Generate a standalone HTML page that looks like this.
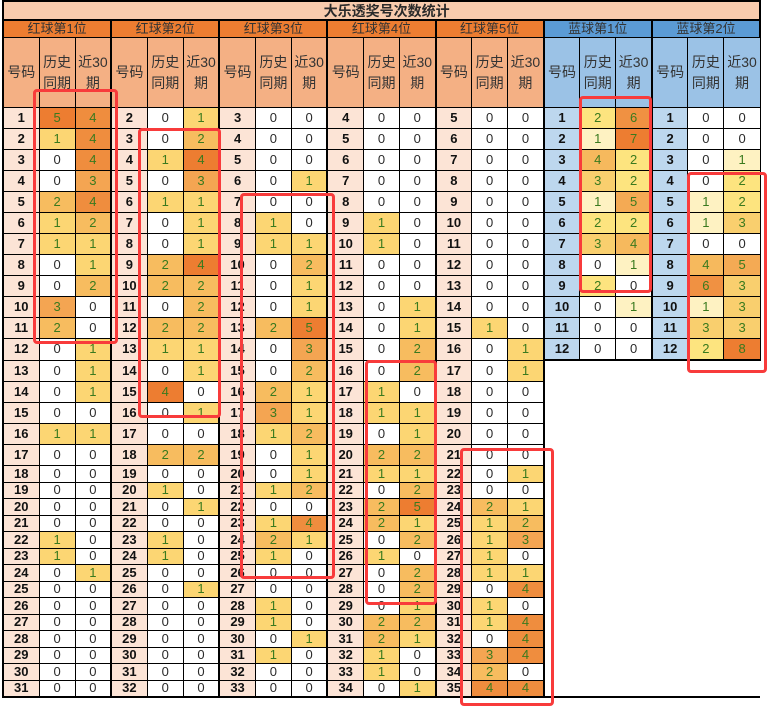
<!DOCTYPE html>
<html><head><meta charset="utf-8"><style>
body{margin:0;background:#fff;width:773px;height:706px;overflow:hidden;position:relative;font-family:"Liberation Sans","Noto Sans CJK SC",sans-serif}
table{position:absolute;left:2px;top:0;border-collapse:collapse;table-layout:fixed;width:757px}
td{border:1px solid #000;text-align:center;padding:0;font-size:13px;color:#2a2a2a;height:20px;line-height:14px;overflow:hidden;white-space:nowrap}
tr.s td{height:16px}tr.s2 td{height:15px}
.t{background:#F8CBAD;font-weight:bold;font-size:14px;text-align:center;padding-left:10px;height:17px;border:2px solid #000}
.gr{background:#ED7D31;font-size:13px;height:16px;border-left:2px solid #000;border-right:2px solid #000;color:#333}
.gb{background:#5B9BD5;font-size:13px;height:16px;border-left:2px solid #000;border-right:2px solid #000;color:#333}
.hr{background:#F4B084;font-size:14px;height:69px;line-height:21px;color:#333}
.hb{background:#9BC2E6;font-size:14px;height:69px;line-height:21px;color:#333}
.a{background:#FCE4D6;font-weight:bold;border-left:2px solid #000;color:#111}
.b{background:#BDD7EE;font-weight:bold;border-left:2px solid #000;color:#111}
.k{border-left:2px solid #000}
.r1,.r2,.r3,.r4,.r5,.y1,.y2,.y3,.y4,.y5,.y6,.y7,.y8{color:#3a7a1e}
.r1{background:#FCD673}.r2{background:#F7BC5F}.r3{background:#F4A552}.r4{background:#EF8D3E}.r5{background:#ED7D31}
.y1{background:#FEF2C2}.y2{background:#FDE47F}.y3{background:#F9CF6E}.y4{background:#F6B95D}.y5{background:#F4AA54}.y6{background:#F09142}.y7,.y8{background:#ED7D31}
.e{border:none;border-left:2px solid #000;border-top:2px solid #000;background:#fff}
.box{position:absolute;border:3px solid #F83B3B;border-radius:4px;box-sizing:border-box}
</style></head><body>
<table>
<colgroup><col span="21" style="width:36.05px"></colgroup>
<tr><td colspan="21" class="t">大乐透奖号次数统计</td></tr>
<tr><td colspan="3" class="gr">红球第1位</td><td colspan="3" class="gr">红球第2位</td><td colspan="3" class="gr">红球第3位</td><td colspan="3" class="gr">红球第4位</td><td colspan="3" class="gr">红球第5位</td><td colspan="3" class="gb">蓝球第1位</td><td colspan="3" class="gb">蓝球第2位</td></tr>
<tr>
<td class="hr k">号码</td><td class="hr">历史<br>同期</td><td class="hr">近30<br>期</td>
<td class="hr k">号码</td><td class="hr">历史<br>同期</td><td class="hr">近30<br>期</td>
<td class="hr k">号码</td><td class="hr">历史<br>同期</td><td class="hr">近30<br>期</td>
<td class="hr k">号码</td><td class="hr">历史<br>同期</td><td class="hr">近30<br>期</td>
<td class="hr k">号码</td><td class="hr">历史<br>同期</td><td class="hr">近30<br>期</td>
<td class="hb k">号码</td><td class="hb">历史<br>同期</td><td class="hb">近30<br>期</td>
<td class="hb k">号码</td><td class="hb">历史<br>同期</td><td class="hb">近30<br>期</td></tr>
<tr><td class="a">1</td><td class="r5">5</td><td class="r4">4</td><td class="a">2</td><td>0</td><td class="r1">1</td><td class="a">3</td><td>0</td><td>0</td><td class="a">4</td><td>0</td><td>0</td><td class="a">5</td><td>0</td><td>0</td><td class="b">1</td><td class="y2">2</td><td class="y6">6</td><td class="b">1</td><td>0</td><td>0</td></tr>
<tr><td class="a">2</td><td class="r1">1</td><td class="r4">4</td><td class="a">3</td><td>0</td><td class="r2">2</td><td class="a">4</td><td>0</td><td>0</td><td class="a">5</td><td>0</td><td>0</td><td class="a">6</td><td>0</td><td>0</td><td class="b">2</td><td class="y1">1</td><td class="y7">7</td><td class="b">2</td><td>0</td><td>0</td></tr>
<tr><td class="a">3</td><td>0</td><td class="r4">4</td><td class="a">4</td><td class="r1">1</td><td class="r5">4</td><td class="a">5</td><td>0</td><td>0</td><td class="a">6</td><td>0</td><td>0</td><td class="a">7</td><td>0</td><td>0</td><td class="b">3</td><td class="y4">4</td><td class="y2">2</td><td class="b">3</td><td>0</td><td class="y1">1</td></tr>
<tr><td class="a">4</td><td>0</td><td class="r3">3</td><td class="a">5</td><td>0</td><td class="r3">3</td><td class="a">6</td><td>0</td><td class="r1">1</td><td class="a">7</td><td>0</td><td>0</td><td class="a">8</td><td>0</td><td>0</td><td class="b">4</td><td class="y3">3</td><td class="y2">2</td><td class="b">4</td><td>0</td><td class="y2">2</td></tr>
<tr><td class="a">5</td><td class="r2">2</td><td class="r4">4</td><td class="a">6</td><td class="r1">1</td><td class="r1">1</td><td class="a">7</td><td>0</td><td>0</td><td class="a">8</td><td>0</td><td>0</td><td class="a">9</td><td>0</td><td>0</td><td class="b">5</td><td class="y1">1</td><td class="y5">5</td><td class="b">5</td><td class="y1">1</td><td class="y2">2</td></tr>
<tr><td class="a">6</td><td class="r1">1</td><td class="r2">2</td><td class="a">7</td><td>0</td><td class="r1">1</td><td class="a">8</td><td class="r1">1</td><td>0</td><td class="a">9</td><td class="r1">1</td><td>0</td><td class="a">10</td><td>0</td><td>0</td><td class="b">6</td><td class="y2">2</td><td class="y2">2</td><td class="b">6</td><td class="y1">1</td><td class="y3">3</td></tr>
<tr><td class="a">7</td><td class="r1">1</td><td class="r1">1</td><td class="a">8</td><td>0</td><td class="r1">1</td><td class="a">9</td><td class="r1">1</td><td class="r1">1</td><td class="a">10</td><td class="r1">1</td><td>0</td><td class="a">11</td><td>0</td><td>0</td><td class="b">7</td><td class="y3">3</td><td class="y4">4</td><td class="b">7</td><td>0</td><td>0</td></tr>
<tr><td class="a">8</td><td>0</td><td class="r1">1</td><td class="a">9</td><td class="r2">2</td><td class="r5">4</td><td class="a">10</td><td>0</td><td class="r2">2</td><td class="a">11</td><td>0</td><td>0</td><td class="a">12</td><td>0</td><td>0</td><td class="b">8</td><td>0</td><td class="y1">1</td><td class="b">8</td><td class="y4">4</td><td class="y5">5</td></tr>
<tr><td class="a">9</td><td>0</td><td class="r2">2</td><td class="a">10</td><td class="r2">2</td><td class="r2">2</td><td class="a">11</td><td>0</td><td class="r1">1</td><td class="a">12</td><td>0</td><td>0</td><td class="a">13</td><td>0</td><td>0</td><td class="b">9</td><td class="y2">2</td><td>0</td><td class="b">9</td><td class="y6">6</td><td class="y3">3</td></tr>
<tr><td class="a">10</td><td class="r3">3</td><td>0</td><td class="a">11</td><td>0</td><td class="r2">2</td><td class="a">12</td><td>0</td><td class="r1">1</td><td class="a">13</td><td>0</td><td class="r1">1</td><td class="a">14</td><td>0</td><td>0</td><td class="b">10</td><td>0</td><td class="y1">1</td><td class="b">10</td><td class="y1">1</td><td class="y3">3</td></tr>
<tr><td class="a">11</td><td class="r2">2</td><td>0</td><td class="a">12</td><td class="r2">2</td><td class="r2">2</td><td class="a">13</td><td class="r2">2</td><td class="r5">5</td><td class="a">14</td><td>0</td><td class="r1">1</td><td class="a">15</td><td class="r1">1</td><td>0</td><td class="b">11</td><td>0</td><td>0</td><td class="b">11</td><td class="y3">3</td><td class="y3">3</td></tr>
<tr><td class="a">12</td><td>0</td><td class="r1">1</td><td class="a">13</td><td class="r1">1</td><td class="r1">1</td><td class="a">14</td><td>0</td><td class="r3">3</td><td class="a">15</td><td>0</td><td class="r2">2</td><td class="a">16</td><td>0</td><td class="r1">1</td><td class="b">12</td><td>0</td><td>0</td><td class="b">12</td><td class="y2">2</td><td class="y8">8</td></tr>
<tr><td class="a">13</td><td>0</td><td class="r1">1</td><td class="a">14</td><td>0</td><td class="r1">1</td><td class="a">15</td><td>0</td><td class="r2">2</td><td class="a">16</td><td>0</td><td class="r2">2</td><td class="a">17</td><td>0</td><td class="r1">1</td><td colspan="6" rowspan="19" class="e"></td></tr>
<tr><td class="a">14</td><td>0</td><td class="r1">1</td><td class="a">15</td><td class="r5">4</td><td>0</td><td class="a">16</td><td class="r2">2</td><td class="r1">1</td><td class="a">17</td><td class="r1">1</td><td>0</td><td class="a">18</td><td>0</td><td>0</td></tr>
<tr><td class="a">15</td><td>0</td><td>0</td><td class="a">16</td><td>0</td><td class="r1">1</td><td class="a">17</td><td class="r3">3</td><td class="r1">1</td><td class="a">18</td><td class="r1">1</td><td class="r1">1</td><td class="a">19</td><td>0</td><td>0</td></tr>
<tr><td class="a">16</td><td class="r1">1</td><td class="r1">1</td><td class="a">17</td><td>0</td><td>0</td><td class="a">18</td><td class="r1">1</td><td class="r2">2</td><td class="a">19</td><td>0</td><td class="r1">1</td><td class="a">20</td><td>0</td><td>0</td></tr>
<tr><td class="a">17</td><td>0</td><td>0</td><td class="a">18</td><td class="r2">2</td><td class="r2">2</td><td class="a">19</td><td>0</td><td class="r1">1</td><td class="a">20</td><td class="r2">2</td><td class="r2">2</td><td class="a">21</td><td>0</td><td>0</td></tr>
<tr class="s"><td class="a">18</td><td>0</td><td>0</td><td class="a">19</td><td>0</td><td>0</td><td class="a">20</td><td>0</td><td class="r1">1</td><td class="a">21</td><td class="r1">1</td><td class="r1">1</td><td class="a">22</td><td>0</td><td class="r1">1</td></tr>
<tr class="s2"><td class="a">19</td><td>0</td><td>0</td><td class="a">20</td><td class="r1">1</td><td>0</td><td class="a">21</td><td class="r1">1</td><td class="r2">2</td><td class="a">22</td><td>0</td><td class="r2">2</td><td class="a">23</td><td>0</td><td>0</td></tr>
<tr class="s"><td class="a">20</td><td>0</td><td>0</td><td class="a">21</td><td>0</td><td class="r1">1</td><td class="a">22</td><td>0</td><td>0</td><td class="a">23</td><td class="r2">2</td><td class="r5">5</td><td class="a">24</td><td class="r2">2</td><td class="r1">1</td></tr>
<tr class="s2"><td class="a">21</td><td>0</td><td>0</td><td class="a">22</td><td>0</td><td>0</td><td class="a">23</td><td class="r1">1</td><td class="r4">4</td><td class="a">24</td><td class="r2">2</td><td class="r1">1</td><td class="a">25</td><td class="r1">1</td><td class="r2">2</td></tr>
<tr class="s"><td class="a">22</td><td class="r1">1</td><td>0</td><td class="a">23</td><td class="r1">1</td><td>0</td><td class="a">24</td><td class="r2">2</td><td class="r1">1</td><td class="a">25</td><td>0</td><td class="r2">2</td><td class="a">26</td><td class="r1">1</td><td class="r3">3</td></tr>
<tr class="s2"><td class="a">23</td><td class="r1">1</td><td>0</td><td class="a">24</td><td class="r1">1</td><td>0</td><td class="a">25</td><td class="r1">1</td><td>0</td><td class="a">26</td><td class="r1">1</td><td>0</td><td class="a">27</td><td class="r1">1</td><td>0</td></tr>
<tr class="s"><td class="a">24</td><td>0</td><td class="r1">1</td><td class="a">25</td><td>0</td><td>0</td><td class="a">26</td><td>0</td><td>0</td><td class="a">27</td><td>0</td><td class="r2">2</td><td class="a">28</td><td class="r1">1</td><td class="r1">1</td></tr>
<tr class="s2"><td class="a">25</td><td>0</td><td>0</td><td class="a">26</td><td>0</td><td class="r1">1</td><td class="a">27</td><td>0</td><td>0</td><td class="a">28</td><td>0</td><td class="r2">2</td><td class="a">29</td><td>0</td><td class="r4">4</td></tr>
<tr class="s"><td class="a">26</td><td>0</td><td>0</td><td class="a">27</td><td>0</td><td>0</td><td class="a">28</td><td class="r1">1</td><td>0</td><td class="a">29</td><td>0</td><td class="r1">1</td><td class="a">30</td><td class="r1">1</td><td>0</td></tr>
<tr class="s2"><td class="a">27</td><td>0</td><td>0</td><td class="a">28</td><td>0</td><td>0</td><td class="a">29</td><td class="r1">1</td><td>0</td><td class="a">30</td><td class="r2">2</td><td class="r2">2</td><td class="a">31</td><td class="r1">1</td><td class="r4">4</td></tr>
<tr class="s"><td class="a">28</td><td>0</td><td>0</td><td class="a">29</td><td>0</td><td>0</td><td class="a">30</td><td>0</td><td class="r1">1</td><td class="a">31</td><td class="r2">2</td><td class="r1">1</td><td class="a">32</td><td>0</td><td class="r4">4</td></tr>
<tr class="s2"><td class="a">29</td><td>0</td><td>0</td><td class="a">30</td><td>0</td><td>0</td><td class="a">31</td><td class="r1">1</td><td>0</td><td class="a">32</td><td class="r1">1</td><td>0</td><td class="a">33</td><td class="r3">3</td><td class="r4">4</td></tr>
<tr class="s"><td class="a">30</td><td>0</td><td>0</td><td class="a">31</td><td>0</td><td>0</td><td class="a">32</td><td>0</td><td>0</td><td class="a">33</td><td class="r1">1</td><td>0</td><td class="a">34</td><td class="r2">2</td><td>0</td></tr>
<tr class="s2" style="border-bottom:2px solid #000"><td class="a">31</td><td>0</td><td>0</td><td class="a">32</td><td>0</td><td>0</td><td class="a">33</td><td>0</td><td>0</td><td class="a">34</td><td>0</td><td class="r1">1</td><td class="a">35</td><td class="r4">4</td><td class="r4">4</td></tr>
</table>
<div class="box" style="left:33px;top:89px;width:85px;height:255px"></div>
<div class="box" style="left:138px;top:128px;width:83px;height:290px"></div>
<div class="box" style="left:240px;top:193px;width:95px;height:386px"></div>
<div class="box" style="left:365px;top:360px;width:72px;height:245px"></div>
<div class="box" style="left:460px;top:448px;width:94px;height:258px"></div>
<div class="box" style="left:579px;top:96px;width:73px;height:197px"></div>
<div class="box" style="left:687px;top:172px;width:80px;height:201px"></div>
</body></html>
